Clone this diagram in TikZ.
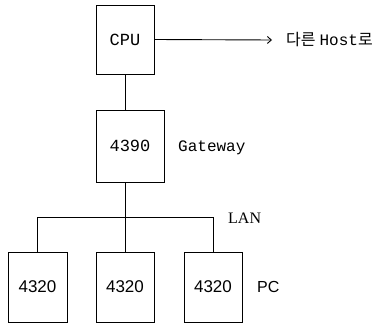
\documentclass[tikz,border=0pt]{standalone}
\usepackage{fontspec}
\setmainfont{Liberation Serif}
\setsansfont{Liberation Sans}
\setmonofont{Liberation Mono}
\newfontfamily\krfont{Noto Sans CJK KR}
\usetikzlibrary{arrows.meta, positioning}

\tikzset{
  unitbox/.style={draw, line width=0.9pt, inner sep=0pt},
  label/.style={font=\fontsize{16}{19}\selectfont, inner sep=0pt},
  link/.style={line width=0.9pt}
}

\begin{document}
\begin{tikzpicture}[x=1pt, y=-1pt]

  \useasboundingbox (0,0) rectangle (390,326);

  %% Host side
  \node[unitbox, minimum width=58pt, minimum height=69pt,
        font=\ttfamily\fontsize{17}{20}\selectfont] (cpu) at (125,39.5) {CPU};
  \node[label, anchor=west] (host) at (286,40)
    {{\krfont 다른} \texttt{Host}{\krfont 로}};
  \draw[link, -{Straight Barb[length=4pt, width=7pt]}]
    (cpu.east) -- ([xshift=-14pt]host.west);

  %% Gateway
  \node[unitbox, minimum width=68pt, minimum height=72pt,
        font=\ttfamily\fontsize{17}{20}\selectfont] (gw) at (130,146) {4390};
  \node[label, font=\ttfamily\fontsize{16}{19}\selectfont, anchor=west]
    (gwname) at (178,148) {Gateway};
  \draw[link] (cpu.south) -- (cpu.south |- gw.north);

  %% PCs on the LAN
  \node[unitbox, minimum width=59pt, minimum height=70pt,
        font=\sffamily\fontsize{17}{20}\selectfont] (pc1) at (37.5,287) {4320};
  \node[unitbox, minimum width=58pt, minimum height=70pt,
        font=\sffamily\fontsize{17}{20}\selectfont] (pc2) at (125,287) {4320};
  \node[unitbox, minimum width=58pt, minimum height=70pt,
        font=\sffamily\fontsize{17}{20}\selectfont] (pc3) at (213,287) {4320};
  \node[label, font=\sffamily\fontsize{16}{19}\selectfont, anchor=west]
    (pcname) at (257,287) {PC};

  % LAN bus
  \coordinate (lan) at (126,217);
  \node[label, anchor=west] (lanname) at (228,218) {LAN};
  \draw[link] (pc1.north) -- (pc1.north |- lan) -- (pc3.north |- lan) -- (pc3.north);
  \draw[link] (pc2.north |- gw.south) -- (pc2.north);

\end{tikzpicture}
\end{document}
